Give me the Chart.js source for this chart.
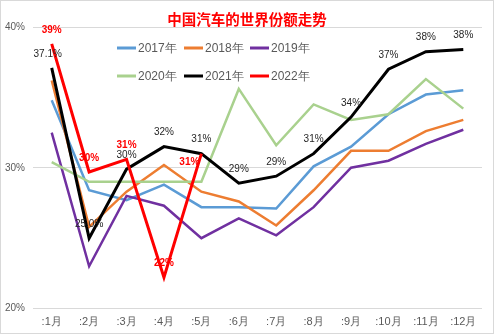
<!DOCTYPE html>
<html>
<head>
<meta charset="utf-8">
<script src="https://cdn.jsdelivr.net/npm/chart.js@4/dist/chart.umd.min.js"></script>
<style>
  body { margin: 0; background: #fff; }
  canvas { display: block; }
</style>
</head>
<body>
<canvas id="share" width="494" height="334"></canvas>
<script>
var months = [':1月', ':2月', ':3月', ':4月', ':5月', ':6月', ':7月', ':8月', ':9月', ':10月', ':11月', ':12月'];
var yTicks = [20, 30, 40];

var s2017 = [34.8, 28.4, 27.7, 28.8, 27.2, 27.2, 27.1, 30.1, 31.5, 33.8, 35.2, 35.5];
var s2018 = [36.2, 25.8, 28.3, 30.2, 28.3, 27.6, 25.9, 28.4, 31.2, 31.2, 32.6, 33.4];
var s2019 = [32.5, 23.0, 28.0, 27.3, 25.0, 26.4, 25.2, 27.2, 30.0, 30.5, 31.7, 32.7];
var s2020 = [30.4, 29.0, 29.0, 29.0, 29.0, 35.6, 31.6, 34.5, 33.4, 33.8, 36.3, 34.2];
var s2021 = [37.1, 25.0, 29.9, 31.5, 31.0, 28.9, 29.4, 31.0, 33.6, 37.0, 38.25, 38.4];
var s2022 = [38.8, 29.7, 30.6, 22.2, 31.0, null, null, null, null, null, null, null];

var labels2021 = ['37.1%', '25.0%', '30%', '32%', '31%', '29%', '29%', '31%', '34%', '37%', '38%', '38%'];
var labels2022 = ['39%', '30%', '31%', '22%', '31%'];

var seriesNames = ['2017年', '2018年', '2019年', '2020年', '2021年', '2022年'];
var seriesData = [s2017, s2018, s2019, s2020, s2021, s2022];
var colors = ['#5b9bd5', '#ed7d31', '#7030a0', '#a9d18e', '#000000', '#ff0000'];

var labelFont = '"Liberation Sans Narrow", "Liberation Sans", Arial, sans-serif';

// point labels for 2021 and 2022 (no datalabels plugin offline)
var pointLabels = {
    id: 'pointLabels',
    afterDatasetsDraw: function (chart) {
        var ctx = chart.ctx;
        var sets = [
            { idx: 4, texts: labels2021, color: '#262626', font: '10px ' + labelFont, shift: { 0: [-4, 0] } },
            { idx: 5, texts: labels2022, color: '#ff0000', font: 'bold 10px ' + labelFont, shift: { 4: [-12, 23] } }
        ];
        ctx.save();
        ctx.textAlign = 'center';
        ctx.textBaseline = 'middle';
        sets.forEach(function (s) {
            var meta = chart.getDatasetMeta(s.idx);
            ctx.fillStyle = s.color;
            ctx.font = s.font;
            s.texts.forEach(function (t, i) {
                var p = meta.data[i];
                if (!p) return;
                var d = s.shift[i] || [0, 0];
                ctx.fillText(t, p.x + d[0], p.y - 14 + d[1]);
            });
        });
        ctx.restore();
    }
};

// title, legend inside the plot, and outer frame
var decor = {
    id: 'decor',
    afterDraw: function (chart) {
        var ctx = chart.ctx;
        ctx.save();
        ctx.fillStyle = '#ff0000';
        ctx.font = 'bold 14.5px "Noto Sans CJK SC", sans-serif';
        ctx.textAlign = 'center';
        ctx.textBaseline = 'middle';
        ctx.fillText('中国汽车的世界份额走势', 247, 19);

        var cols = [117, 184, 250];
        var rows = [48, 76];
        ctx.font = '12px "Liberation Sans", Arial, sans-serif';
        ctx.textAlign = 'left';
        ctx.lineWidth = 3;
        chart.data.datasets.forEach(function (ds, i) {
            var x = cols[i % 3], y = rows[Math.floor(i / 3)];
            ctx.strokeStyle = ds.borderColor;
            ctx.beginPath();
            ctx.moveTo(x, y);
            ctx.lineTo(x + 19, y);
            ctx.stroke();
            ctx.fillStyle = '#595959';
            ctx.fillText(ds.label, x + 21, y + 1);
        });

        ctx.strokeStyle = '#d9d9d9';
        ctx.lineWidth = 1;
        ctx.strokeRect(0.5, 0.5, chart.width - 1, chart.height - 1);
        ctx.restore();
    }
};

var datasets = seriesData.map(function (d, i) {
    return {
        label: seriesNames[i],
        data: d,
        borderColor: colors[i],
        backgroundColor: colors[i],
        borderWidth: i >= 4 ? 3 : 2.5,
        pointRadius: 0,
        tension: 0,
        spanGaps: false,
        order: 5 - i
    };
});

var shareChart = new Chart(document.getElementById('share'), {
    type: 'line',
    data: { labels: months, datasets: datasets },
    options: {
        responsive: false,
        animation: false,
        layout: { padding: { top: 27, right: 12, left: 0, bottom: 0 } },
        plugins: {
            legend: { display: false },
            title: { display: false },
            tooltip: { enabled: false }
        },
        scales: {
            x: {
                offset: true,
                grid: { display: false, drawTicks: false },
                border: { display: false },
                ticks: { color: '#595959', padding: 7, font: { size: 11, family: labelFont }, maxRotation: 0, autoSkip: false },
                afterFit: function (s) { s.height = 25.5; }
            },
            y: {
                min: 20,
                max: 40,
                afterBuildTicks: function (s) { s.ticks = yTicks.map(function (v) { return { value: v }; }); },
                grid: { color: '#d9d9d9', drawTicks: false },
                border: { display: false },
                ticks: {
                    color: '#595959',
                    padding: 8,
                    font: { size: 10, family: labelFont },
                    callback: function (v) { return v + '%'; }
                },
                afterFit: function (s) { s.width = 33; }
            }
        }
    },
    plugins: [pointLabels, decor]
});
</script>
</body>
</html>
